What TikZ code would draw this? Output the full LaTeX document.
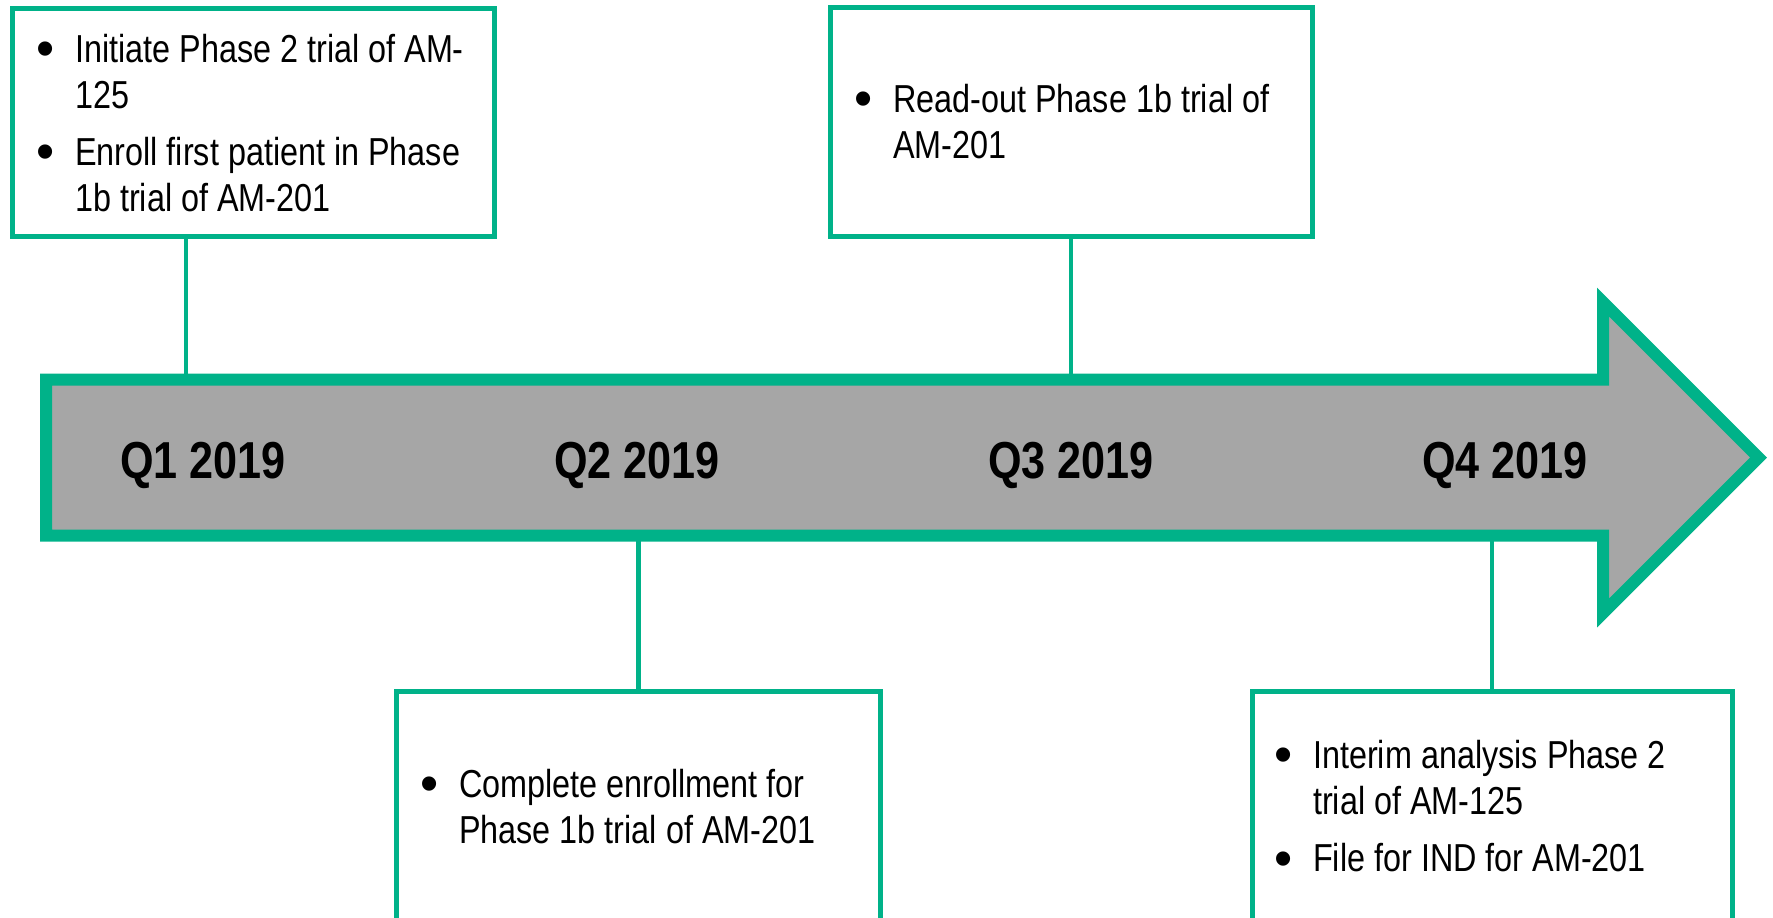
\documentclass[tikz,border=0pt]{standalone}
\usepackage{fontspec}
\usepackage{graphicx}
\setmainfont{Liberation Sans}[FakeStretch=0.83]
\definecolor{tgreen}{RGB}{0,178,137}
\definecolor{tgray}{RGB}{166,166,166}
\newcommand{\bl}{\makebox[39pt][l]{\raisebox{-4.5pt}{\scalebox{1.6}[1.35]{\textbullet}}}}
\begin{document}
\begin{tikzpicture}[x=1pt,y=-1pt,
  box/.style={draw=tgreen,line width=5pt,fill=white,rectangle,inner sep=0pt},
  conn/.style={draw=tgreen,line width=4.5pt},
  bigarrow/.style={draw=tgreen,fill=tgray,line width=12pt,miter limit=10},
  txt/.style={inner sep=0pt,anchor=base west,align=left,font=\fontsize{39}{46.5}\selectfont},
  qlab/.style={inner sep=0pt,anchor=base,font=\fontsize{52}{60}\selectfont\bfseries}]
\useasboundingbox (0,0) rectangle (1773,918);
\clip (0,0) rectangle (1773,918);

% boxes
\node[box,minimum width=482pt,minimum height=228pt] (b1) at (253,122) {};
\node[box,minimum width=482pt,minimum height=229pt] (b2) at (1071,122) {};
\node[box,minimum width=484pt,minimum height=309pt] (b3) at (638.5,845.5) {};
\node[box,minimum width=480pt,minimum height=309pt] (b4) at (1492,845.5) {};

% attachment points on the arrow
\coordinate (a1) at (186,379.5);
\coordinate (a2) at (1071,379.5);
\coordinate (a3) at (638.5,535.5);
\coordinate (a4) at (1492,535.5);

% connectors
\draw[conn] (b1.south -| a1) -- (a1);
\draw[conn] (b2.south) -- (a2);
\draw[conn] (b3.north) -- (a3);
\draw[conn] (b4.north) -- (a4);

% arrow
\draw[bigarrow] (46,379.5) -- (1603,379.5) -- (1603,302) -- (1758.5,457.5)
  -- (1603,613) -- (1603,535.5) -- (46,535.5) -- cycle;

% quarter labels
\node[qlab] (q1) at (203,478) {Q1 2019};
\node[qlab] (q2) at (637,478) {Q2 2019};
\node[qlab] (q3) at (1071,478) {Q3 2019};
\node[qlab] (q4) at (1505,478) {Q4 2019};

% texts
\node[txt] (t1) at (36,62) {\begin{tabular}[t]{@{}l@{}l@{}}
\bl & Initiate Phase 2 trial of AM-\\
 & 125\\[10.5pt]
\bl & Enroll first patient in Phase\\
 & 1b trial of AM-201\end{tabular}};
\node[txt] (t2) at (854,112) {\begin{tabular}[t]{@{}l@{}l@{}}
\bl & Read-out Phase 1b trial of\\
 & AM-201\end{tabular}};
\node[txt] (t3) at (420,797) {\begin{tabular}[t]{@{}l@{}l@{}}
\bl & Complete enrollment for\\
 & Phase 1b trial of AM-201\end{tabular}};
\node[txt] (t4) at (1274,768) {\begin{tabular}[t]{@{}l@{}l@{}}
\bl & Interim analysis Phase 2\\
 & trial of AM-125\\[10.5pt]
\bl & File for IND for AM-201\end{tabular}};
\end{tikzpicture}
\end{document}
